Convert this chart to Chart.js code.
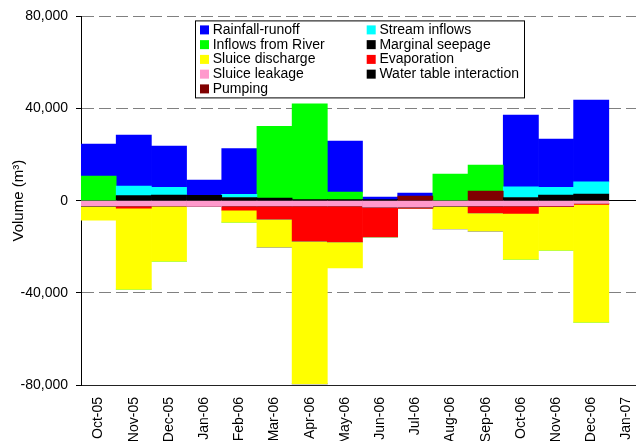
<!DOCTYPE html>
<html>
<head>
<meta charset="utf-8">
<script src="https://cdn.jsdelivr.net/npm/chart.js@4.4.1/dist/chart.umd.min.js"></script>
<style>
  html, body { margin: 0; padding: 0; background: #fff; }
  #wrap { width: 636px; height: 441px; overflow: hidden; }
  canvas { display: block; }
</style>
</head>
<body>
<div id="wrap"><canvas id="balance" width="660" height="470"></canvas></div>
<script>
// months (Jan-07 has no data yet)
const months = ['Oct-05', 'Nov-05', 'Dec-05', 'Jan-06', 'Feb-06', 'Mar-06', 'Apr-06', 'May-06',
                'Jun-06', 'Jul-06', 'Aug-06', 'Sep-06', 'Oct-06', 'Nov-06', 'Dec-06', 'Jan-07'];

// monthly water balance terms, m3 (inflows +, outflows -)
const rainfallRunoff  = [13900, 22200, 17900, 6600, 19800, 0, 0, 22200, 1100, 1300, 0, 0, 31200, 21000, 35500, null];
const streamInflows   = [0, 4100, 3400, 0, 1400, 0, 0, 0, 0, 0, 0, 0, 4600, 3400, 5300, null];
const riverInflows    = [10700, 0, 0, 0, 0, 31200, 41500, 3200, 0, 0, 11600, 11300, 0, 0, 0, null];
const marginalSeepage = [0, 2200, 2400, 2300, 1400, 1100, 500, 500, 500, 0, 0, 0, 1400, 2400, 2900, null];
const sluiceDischarge = [-6100, -35200, -24000, 0, -5200, -12200, -61900, -11300, 0, 0, -10000, -7900, -19900, -18900, -51100, null];
const evaporation     = [0, -900, 0, 0, -1800, -5700, -15300, -15600, -12900, -600, 0, -3000, -3200, -300, -400, null];
const sluiceLeakage   = [-2300, -2300, -2300, -2500, -2300, -2300, -2300, -2300, -2800, -2800, -2300, -2300, -2300, -2300, -1200, null];
const waterTable      = [0, 0, 0, 0, 0, 0, 0, 0, 0, 0, 0, 0, 0, 0, 0, null];
const pumping         = [0, 0, 0, 0, 0, 0, 0, 0, 0, 2000, 0, 4200, 0, 0, 0, null];

const yTicks = [-80000, -40000, 0, 40000, 80000];

// legend order; 'stack' = position in the stack counted out from zero
const series = [
    { label: 'Rainfall-runoff',         data: rainfallRunoff,  color: '#0000ff', stack: 8 },
    { label: 'Stream inflows',          data: streamInflows,   color: '#00ffff', stack: 5 },
    { label: 'Inflows from River',      data: riverInflows,    color: '#00ff00', stack: 7 },
    { label: 'Marginal seepage',        data: marginalSeepage, color: '#000000', stack: 1 },
    { label: 'Sluice discharge',        data: sluiceDischarge, color: '#ffff00', stack: 6 },
    { label: 'Evaporation',             data: evaporation,     color: '#ff0000', stack: 4 },
    { label: 'Sluice leakage',          data: sluiceLeakage,   color: '#ff99cc', stack: 0 },
    { label: 'Water table interaction', data: waterTable,      color: '#000000', stack: 2 },
    { label: 'Pumping',                 data: pumping,         color: '#800000', stack: 3 }
];

const FONT = '"Liberation Sans", Arial, sans-serif';
Chart.defaults.font.family = FONT;
Chart.defaults.font.size = 14;
Chart.defaults.color = '#000';

// boxed two-column legend inside the plot
const boxLegend = {
    id: 'boxLegend',
    afterDraw(chart) {
        const { ctx, chartArea } = chart;
        const left = chartArea.left + 114;
        const top = chartArea.top + 4;
        ctx.save();
        ctx.fillStyle = '#fff';
        ctx.fillRect(left, top, 329, 77);
        ctx.strokeStyle = '#000';
        ctx.lineWidth = 1;
        ctx.strokeRect(left + 0.5, top + 0.5, 329, 77);
        ctx.font = '14px ' + FONT;
        ctx.textBaseline = 'middle';
        chart.data.datasets.forEach((ds, i) => {
            const x = left + 5 + (i % 2) * 166.7;
            const y = top + 9.5 + Math.floor(i / 2) * 14.75;
            ctx.fillStyle = ds.backgroundColor;
            ctx.fillRect(x, y - 4.5, 9, 9);
            ctx.fillStyle = '#000';
            ctx.fillText(ds.label, x + 12.7, y);
        });
        ctx.restore();
    }
};

new Chart(document.getElementById('balance'), {
    type: 'bar',
    data: {
        labels: months,
        datasets: series.map(s => ({
            label: s.label,
            data: s.data,
            backgroundColor: s.color,
            borderWidth: 0,
            order: s.stack,
            xAxisID: 'x',
            barPercentage: 1,
            categoryPercentage: 1
        }))
    },
    options: {
        responsive: false,
        animation: false,
        layout: { padding: { left: 0, top: 16, right: 16, bottom: 0 } },
        plugins: {
            legend: { display: false },
            tooltip: { enabled: false }
        },
        scales: {
            x: {
                stacked: true,
                afterFit: s => { s.height = 85; },
                grid: { display: false, drawTicks: false },
                border: { color: '#222' },
                ticks: { autoSkip: false, maxRotation: 90, minRotation: 90, padding: 12, font: { size: 14 } }
            },
            // zero line with month dividers
            xZero: {
                axis: 'x',
                type: 'category',
                position: { y: 0 },
                offset: true,
                z: 1,
                grid: { offset: true, drawOnChartArea: false, color: '#000', tickColor: '#000', tickLength: 5 },
                ticks: { display: false },
                border: { color: '#000' }
            },
            y: {
                stacked: true,
                min: yTicks[0],
                max: yTicks[yTicks.length - 1],
                afterFit: s => { s.width = 81; },
                afterBuildTicks: s => { s.ticks = yTicks.map(v => ({ value: v })); },
                ticks: { padding: 8, callback: v => v.toLocaleString('en-US') },
                grid: {
                    color: c => (c.tick && (c.tick.value === 0 || c.tick.value === yTicks[0])) ? 'rgba(0,0,0,0)' : '#808080',
                    tickColor: '#000',
                    tickLength: 5,
                    tickBorderDash: []
                },
                border: { color: '#000', dash: [12, 5] },
                title: { display: true, text: 'Volume (m³)', font: { size: 15 }, padding: { top: 10, bottom: 0 } }
            }
        }
    },
    plugins: [boxLegend]
});
</script>
</body>
</html>
